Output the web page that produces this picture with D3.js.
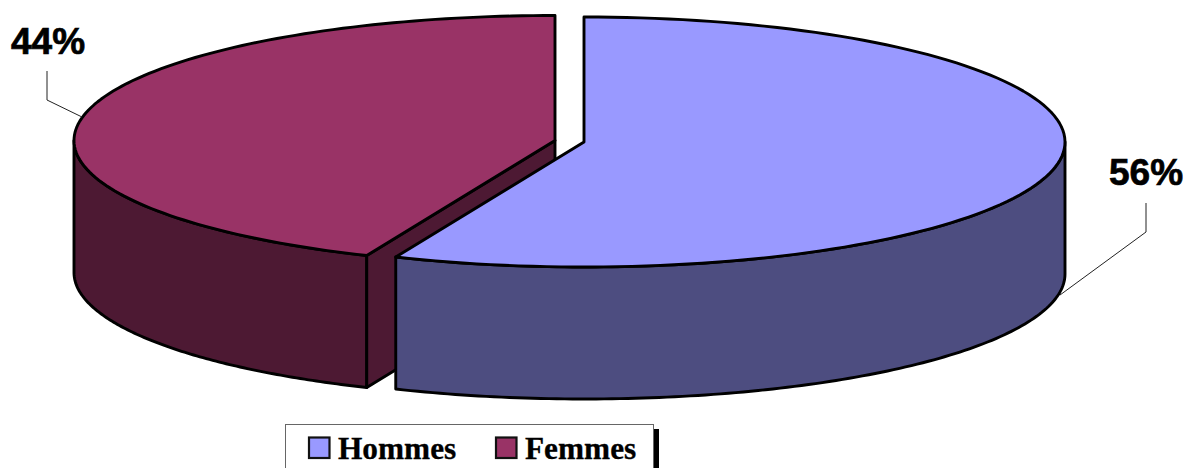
<!DOCTYPE html>
<html><head><meta charset="utf-8">
<script src="https://cdn.jsdelivr.net/npm/d3@7"></script>
<style>html,body{margin:0;padding:0;background:#fff;overflow:hidden}svg{display:block}</style>
</head><body><svg id="c" width="1186" height="468"></svg>
<script>
const categories = ["Hommes", "Femmes"];
const values = [56.4, 43.6];
const topColors = ["#9999FF", "#993366"];
const sideColors = ["#4D4D80", "#4D1933"];

const svg = d3.select("#c");
const rx = 481, ry = 125, depth = 132;
const centers = [584, 555];
const centersY = [142, 140.5];
const slices = d3.pie().sort(null).value(d => d)(values);
const line = d3.line();
const pt = (cx, cy, a, dy = 0) => [cx + rx * Math.sin(a), cy - ry * Math.cos(a) + dy];
const arcPts = (cx, cy, a0, a1, dy = 0) => d3.range(0, 121).map(i => pt(cx, cy, a0 + (a1 - a0) * i / 120, dy));

function draw(i) {
  const s = slices[i], cx = centers[i], cy = centersY[i];
  const g = svg.append("g").attr("stroke", "#000").attr("stroke-width", 2.9).attr("stroke-linejoin", "round");
  const r0 = Math.max(s.startAngle, Math.PI / 2), r1 = Math.min(s.endAngle, 3 * Math.PI / 2);
  const rim = arcPts(cx, cy, r0, r1).concat(arcPts(cx, cy, r1, r0, depth));
  g.append("path").attr("d", line(rim) + "Z").attr("fill", sideColors[i]);
  if (i === 1) {
    const e = pt(cx, cy, s.startAngle);
    g.append("path").attr("fill", sideColors[i])
      .attr("d", line([[cx, cy], [cx, cy + depth], [e[0], e[1] + depth], e]) + "Z");
  }
  const top = [[cx, cy]].concat(arcPts(cx, cy, s.startAngle, s.endAngle));
  g.append("path").attr("d", line(top) + "Z").attr("fill", topColors[i]);
}
draw(1);
draw(0);

const total = d3.sum(values);
const labels = values.map(v => Math.round(v / total * 100) + "%");
const leaders = [[[1146, 203], [1146, 232], [1060, 295]], [[47, 71], [47, 100], [82, 117]]];
leaders.forEach(l => svg.append("path").attr("d", line(l)).attr("fill", "none").attr("stroke", "#222").attr("stroke-width", 1));
const labelPos = [[1109, 185], [11, 54]];
labels.forEach((t, i) => svg.append("text").attr("x", labelPos[i][0]).attr("y", labelPos[i][1])
  .attr("font-family", "'Liberation Sans'").attr("font-weight", "bold").attr("font-size", 37)
  .attr("fill", "#000").attr("stroke", "#000").attr("stroke-width", 0.7).text(t));

svg.append("rect").attr("x", 653).attr("y", 429).attr("width", 6).attr("height", 39).attr("fill", "#000");
svg.append("rect").attr("x", 285.5).attr("y", 424.5).attr("width", 368).attr("height", 50)
  .attr("fill", "#fff").attr("stroke", "#666").attr("stroke-width", 1);
const swatchX = [309, 496], textX = [338, 525];
categories.forEach((c, i) => {
  svg.append("rect").attr("x", swatchX[i]).attr("y", 437.5).attr("width", 20.5).attr("height", 20.5)
    .attr("fill", topColors[i]).attr("stroke", "#111").attr("stroke-width", 2.2);
  svg.append("text").attr("x", textX[i]).attr("y", 459)
    .attr("font-family", "'Liberation Serif'").attr("font-weight", "bold").attr("font-size", 31.3)
    .attr("fill", "#000").attr("stroke", "#000").attr("stroke-width", 0.3).text(c);
});
</script></body></html>
